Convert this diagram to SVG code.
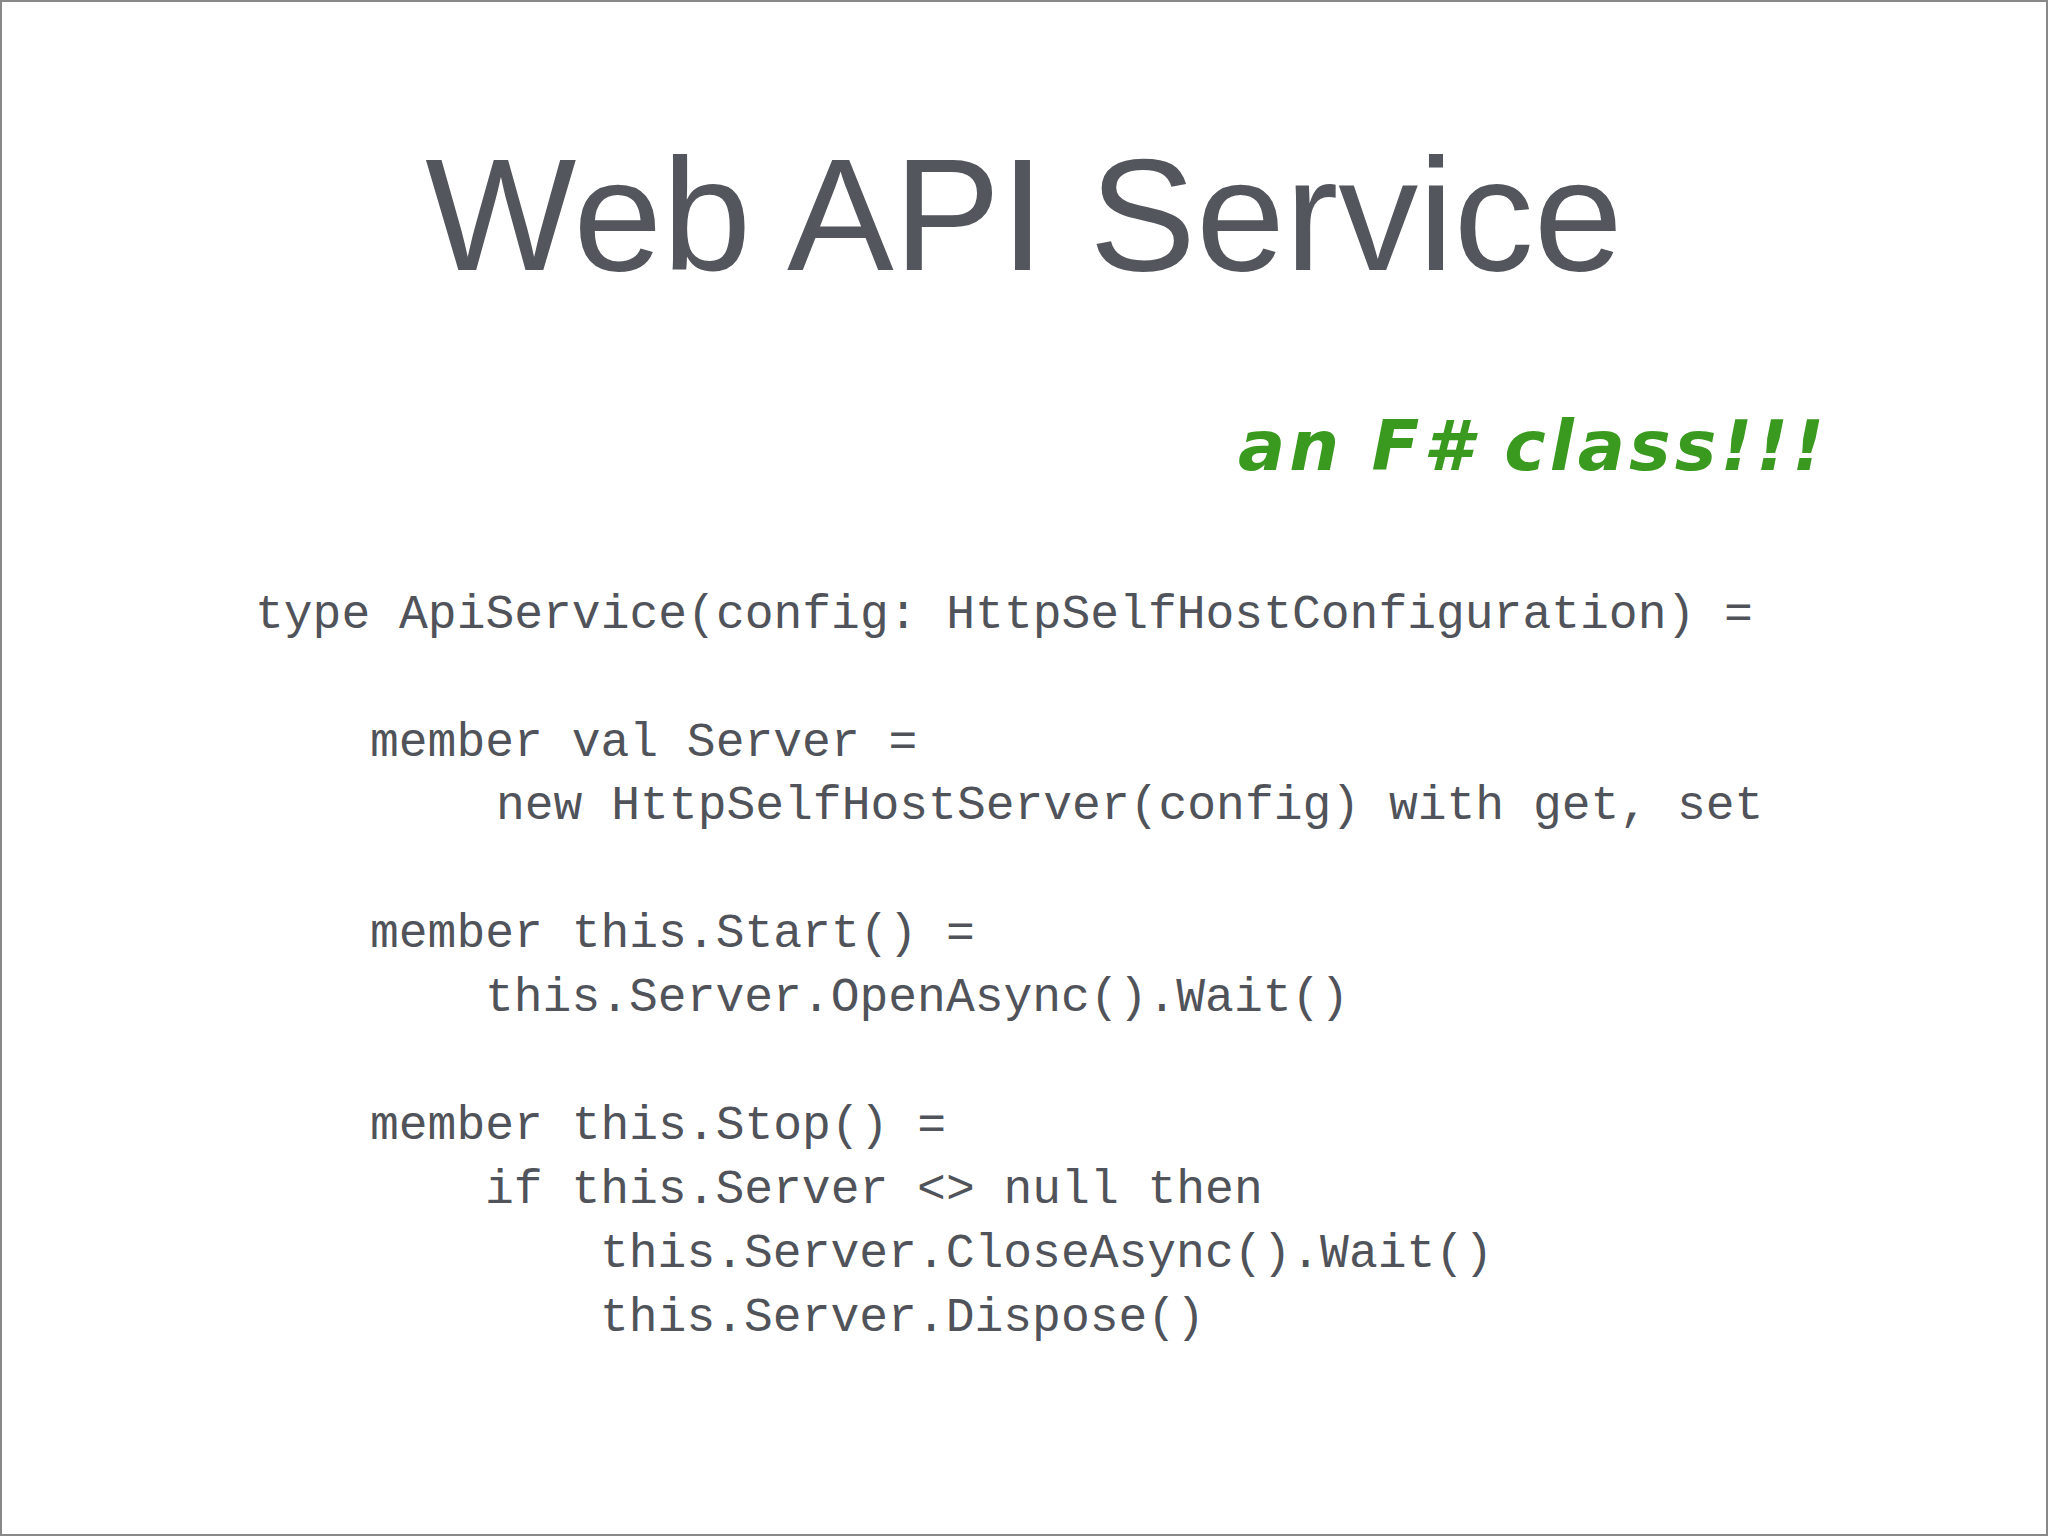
<svg xmlns="http://www.w3.org/2000/svg" width="2048" height="1536" viewBox="0 0 2048 1536">
<style>
.code{font-family:"Liberation Mono","DejaVu Sans Mono",monospace;font-size:48px;fill:#505359}
</style>
<rect x="0" y="0" width="2048" height="1536" fill="#ffffff"/>
<rect x="1" y="1" width="2046" height="1534" fill="none" stroke="#888" stroke-width="2"/>
<text x="1024" y="270" text-anchor="middle" font-family="Liberation Sans, Arial, sans-serif" font-size="160" fill="#53565c">Web API Service</text>
<text x="1238" y="470" font-family="DejaVu Sans, sans-serif" font-style="italic" font-weight="bold" font-size="70" letter-spacing="4" fill="#3a9a1f">an F# class!!!</text>
<text class="code" xml:space="preserve"><tspan x="255" y="628">type ApiService(config: HttpSelfHostConfiguration) =</tspan><tspan x="370" y="756">member val Server =</tspan><tspan x="496" y="819">new HttpSelfHostServer(config) with get, set</tspan><tspan x="370" y="947">member this.Start() =</tspan><tspan x="485" y="1011">this.Server.OpenAsync().Wait()</tspan><tspan x="370" y="1139">member this.Stop() =</tspan><tspan x="485" y="1203">if this.Server &lt;&gt; null then</tspan><tspan x="600" y="1267">this.Server.CloseAsync().Wait()</tspan><tspan x="600" y="1331">this.Server.Dispose()</tspan></text>
</svg>
